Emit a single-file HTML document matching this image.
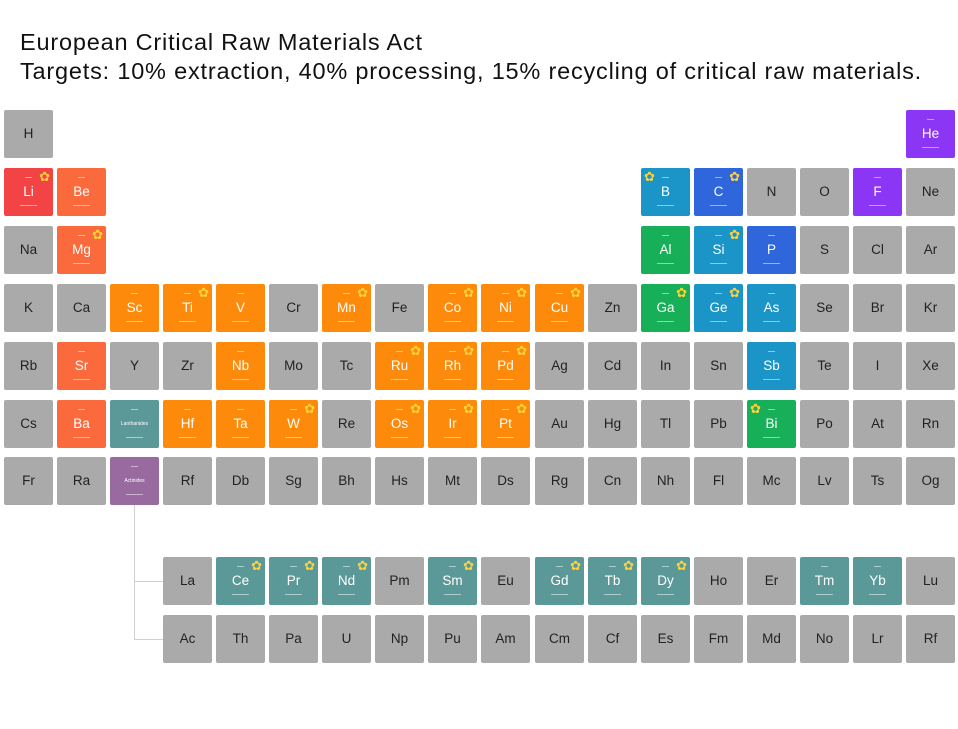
<!DOCTYPE html>
<html><head><meta charset="utf-8"><style>
body{margin:0;width:958px;height:729px;background:#fff;position:relative;overflow:hidden;font-family:"Liberation Sans",sans-serif}
.t{position:absolute;left:20px;font-size:23.5px;letter-spacing:0.8px;color:#111;white-space:nowrap}
.c{position:absolute;width:49px;height:48px;border-radius:2px;background:#aaa;color:#222;text-align:center;line-height:48px;font-size:13.5px}
.c.w{color:#fff}
.c.w::before{content:"";position:absolute;left:21px;top:9px;width:7px;height:1px;background:rgba(255,255,255,.5)}
.c.w::after{content:"";position:absolute;left:16px;top:37px;width:17px;height:1px;background:rgba(255,255,255,.5)}
.s{position:absolute;top:2px;right:3px;color:#ffd23a;font-size:13px;line-height:13px}
.s.l{left:3px;right:auto}
.R{background:#f24444}.O1{background:#fb6a3c}.O{background:#fd8a0a}.T{background:#1b95c8}.B{background:#2f66dc}.G{background:#17b058}.P{background:#8b35f5}.L{background:#5b9898}.A{background:#986aa0}
.x1{left:4px}.x2{left:57px}.x3{left:110px}.x4{left:163px}.x5{left:216px}.x6{left:269px}.x7{left:322px}.x8{left:375px}.x9{left:428px}.x10{left:481px}.x11{left:535px}.x12{left:588px}.x13{left:641px}.x14{left:694px}.x15{left:747px}.x16{left:800px}.x17{left:853px}.x18{left:906px}
.r1{top:110px}.r2{top:168px}.r3{top:226px}.r4{top:284px}.r5{top:342px}.r6{top:400px}.r7{top:457px}.r8{top:557px}.r9{top:615px}
.ln{position:absolute;background:#cfcfcf}
</style></head><body>
<div class="t" style="top:29px">European Critical Raw Materials Act</div>
<div class="t" style="top:58px">Targets: 10% extraction, 40% processing, 15% recycling of critical raw materials.</div>
<div class="ln" style="left:134px;top:505px;width:1px;height:134px"></div>
<div class="ln" style="left:134px;top:581px;width:29px;height:1px"></div>
<div class="ln" style="left:134px;top:639px;width:29px;height:1px"></div>

<div class="c x1 r1">H</div><div class="c w P x18 r1">He</div>

<div class="c w R x1 r2">Li<span class="s">✿</span></div><div class="c w O1 x2 r2">Be</div>
<div class="c w T x13 r2">B<span class="s l">✿</span></div><div class="c w B x14 r2">C<span class="s">✿</span></div><div class="c x15 r2">N</div><div class="c x16 r2">O</div><div class="c w P x17 r2">F</div><div class="c x18 r2">Ne</div>

<div class="c x1 r3">Na</div><div class="c w O1 x2 r3">Mg<span class="s">✿</span></div>
<div class="c w G x13 r3">Al</div><div class="c w T x14 r3">Si<span class="s">✿</span></div><div class="c w B x15 r3">P</div><div class="c x16 r3">S</div><div class="c x17 r3">Cl</div><div class="c x18 r3">Ar</div>

<div class="c x1 r4">K</div><div class="c x2 r4">Ca</div><div class="c w O x3 r4">Sc</div><div class="c w O x4 r4">Ti<span class="s">✿</span></div><div class="c w O x5 r4">V</div><div class="c x6 r4">Cr</div><div class="c w O x7 r4">Mn<span class="s">✿</span></div><div class="c x8 r4">Fe</div><div class="c w O x9 r4">Co<span class="s">✿</span></div><div class="c w O x10 r4">Ni<span class="s">✿</span></div><div class="c w O x11 r4">Cu<span class="s">✿</span></div><div class="c x12 r4">Zn</div><div class="c w G x13 r4">Ga<span class="s">✿</span></div><div class="c w T x14 r4">Ge<span class="s">✿</span></div><div class="c w T x15 r4">As</div><div class="c x16 r4">Se</div><div class="c x17 r4">Br</div><div class="c x18 r4">Kr</div>

<div class="c x1 r5">Rb</div><div class="c w O1 x2 r5">Sr</div><div class="c x3 r5">Y</div><div class="c x4 r5">Zr</div><div class="c w O x5 r5">Nb</div><div class="c x6 r5">Mo</div><div class="c x7 r5">Tc</div><div class="c w O x8 r5">Ru<span class="s">✿</span></div><div class="c w O x9 r5">Rh<span class="s">✿</span></div><div class="c w O x10 r5">Pd<span class="s">✿</span></div><div class="c x11 r5">Ag</div><div class="c x12 r5">Cd</div><div class="c x13 r5">In</div><div class="c x14 r5">Sn</div><div class="c w T x15 r5">Sb</div><div class="c x16 r5">Te</div><div class="c x17 r5">I</div><div class="c x18 r5">Xe</div>

<div class="c x1 r6">Cs</div><div class="c w O1 x2 r6">Ba</div><div class="c w L x3 r6" style="font-size:5px">Lanthanides</div><div class="c w O x4 r6">Hf</div><div class="c w O x5 r6">Ta</div><div class="c w O x6 r6">W<span class="s">✿</span></div><div class="c x7 r6">Re</div><div class="c w O x8 r6">Os<span class="s">✿</span></div><div class="c w O x9 r6">Ir<span class="s">✿</span></div><div class="c w O x10 r6">Pt<span class="s">✿</span></div><div class="c x11 r6">Au</div><div class="c x12 r6">Hg</div><div class="c x13 r6">Tl</div><div class="c x14 r6">Pb</div><div class="c w G x15 r6">Bi<span class="s l">✿</span></div><div class="c x16 r6">Po</div><div class="c x17 r6">At</div><div class="c x18 r6">Rn</div>

<div class="c x1 r7">Fr</div><div class="c x2 r7">Ra</div><div class="c w A x3 r7" style="font-size:5px">Actinides</div><div class="c x4 r7">Rf</div><div class="c x5 r7">Db</div><div class="c x6 r7">Sg</div><div class="c x7 r7">Bh</div><div class="c x8 r7">Hs</div><div class="c x9 r7">Mt</div><div class="c x10 r7">Ds</div><div class="c x11 r7">Rg</div><div class="c x12 r7">Cn</div><div class="c x13 r7">Nh</div><div class="c x14 r7">Fl</div><div class="c x15 r7">Mc</div><div class="c x16 r7">Lv</div><div class="c x17 r7">Ts</div><div class="c x18 r7">Og</div>

<div class="c x4 r8">La</div><div class="c w L x5 r8">Ce<span class="s">✿</span></div><div class="c w L x6 r8">Pr<span class="s">✿</span></div><div class="c w L x7 r8">Nd<span class="s">✿</span></div><div class="c x8 r8">Pm</div><div class="c w L x9 r8">Sm<span class="s">✿</span></div><div class="c x10 r8">Eu</div><div class="c w L x11 r8">Gd<span class="s">✿</span></div><div class="c w L x12 r8">Tb<span class="s">✿</span></div><div class="c w L x13 r8">Dy<span class="s">✿</span></div><div class="c x14 r8">Ho</div><div class="c x15 r8">Er</div><div class="c w L x16 r8">Tm</div><div class="c w L x17 r8">Yb</div><div class="c x18 r8">Lu</div>

<div class="c x4 r9">Ac</div><div class="c x5 r9">Th</div><div class="c x6 r9">Pa</div><div class="c x7 r9">U</div><div class="c x8 r9">Np</div><div class="c x9 r9">Pu</div><div class="c x10 r9">Am</div><div class="c x11 r9">Cm</div><div class="c x12 r9">Cf</div><div class="c x13 r9">Es</div><div class="c x14 r9">Fm</div><div class="c x15 r9">Md</div><div class="c x16 r9">No</div><div class="c x17 r9">Lr</div><div class="c x18 r9">Rf</div>
</body></html>
